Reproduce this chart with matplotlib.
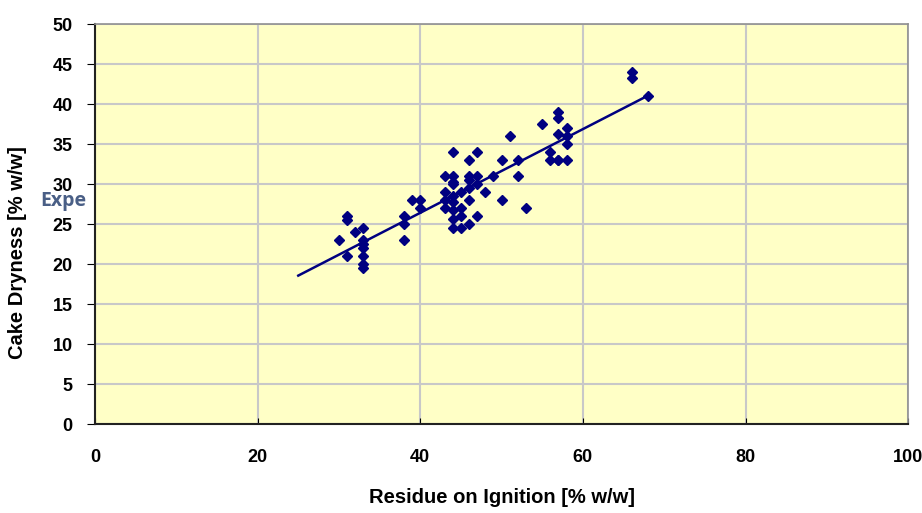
import numpy as np
import matplotlib
matplotlib.use('Agg')
import matplotlib.pyplot as plt

# Residue on Ignition [% w/w] vs Cake Dryness [% w/w]
residue = [30, 31, 31, 31, 32, 33, 33, 33, 33, 33, 33, 33,
           38, 38, 38, 39, 40, 40,
           43, 43, 43, 43, 44, 44, 44, 44, 44, 44, 44, 44, 44,
           45, 45, 45, 45, 46, 46, 46, 46, 46, 46, 47, 47, 47, 47,
           48, 49, 50, 50, 51, 52, 52, 53,
           55, 56, 56, 57, 57, 57, 57, 57, 58, 58, 58, 58,
           66, 66, 68]
dryness = [23, 26, 25.5, 21, 24, 24.5, 23, 22.5, 22, 21, 20, 19.5,
           26, 25, 23, 28, 28, 27,
           31, 29, 27, 28, 34, 31, 30.3, 27.8, 26.8, 25.7, 24.5, 28.5, 30,
           29, 27, 26, 24.5, 33, 30.5, 29.5, 28, 25, 31, 34, 31, 30, 26,
           29, 31, 33, 28, 36, 33, 31, 27,
           37.5, 34, 33, 39, 38.3, 36.3, 33, 33, 37, 36, 35, 33,
           44, 43.3, 41]

# linear trend line
trend_x = [25, 68]
trend_slope = 0.523
trend_intercept = 5.5

fig = plt.figure(figsize=(9.22, 5.13), dpi=100)
ax = fig.add_axes([0.103, 0.173, 0.882, 0.780])
ax.set_facecolor('#FFFFC6')

ax.grid(True, color='#c8c8c8', linewidth=1.5)
ax.set_axisbelow(True)

tx = np.array(trend_x)
ax.plot(tx, trend_slope * tx + trend_intercept, color='#000080', linewidth=1.8, zorder=3)
ax.plot(residue, dryness, linestyle='none', marker='D', markersize=5.5,
        color='#000080', zorder=4)

ax.set_xlim(0, 100)
ax.set_ylim(0, 50)
ax.set_xticks(np.arange(0, 101, 20))
ax.set_yticks(np.arange(0, 51, 5))

for s in ['left', 'bottom']:
    ax.spines[s].set_color('#222222')
    ax.spines[s].set_linewidth(1.5)
for s in ['top', 'right']:
    ax.spines[s].set_color('#909090')
    ax.spines[s].set_linewidth(1.2)

label_font = dict(family='Liberation Sans', weight='bold', size=14.5)
ax.tick_params(axis='x', direction='in', length=4, pad=18, labelsize=13)
ax.tick_params(axis='y', direction='out', length=6, pad=10, labelsize=13)
for lab in ax.get_xticklabels() + ax.get_yticklabels():
    lab.set_fontfamily('Liberation Sans')
    lab.set_fontweight('bold')

ax.set_xlabel('Residue on Ignition [% w/w]', fontdict=label_font, labelpad=16)
ax.set_ylabel('Cake Dryness [% w/w]', fontdict=label_font)
ax.yaxis.set_label_coords(-0.084, 0.43)

fig.text(40 / 922, 1 - 201 / 513, 'Expe', color='#4a5f86', fontsize=14,
         fontweight='bold', family='Open Sans', va='center', ha='left')

fig.savefig('out.png', dpi=100)
